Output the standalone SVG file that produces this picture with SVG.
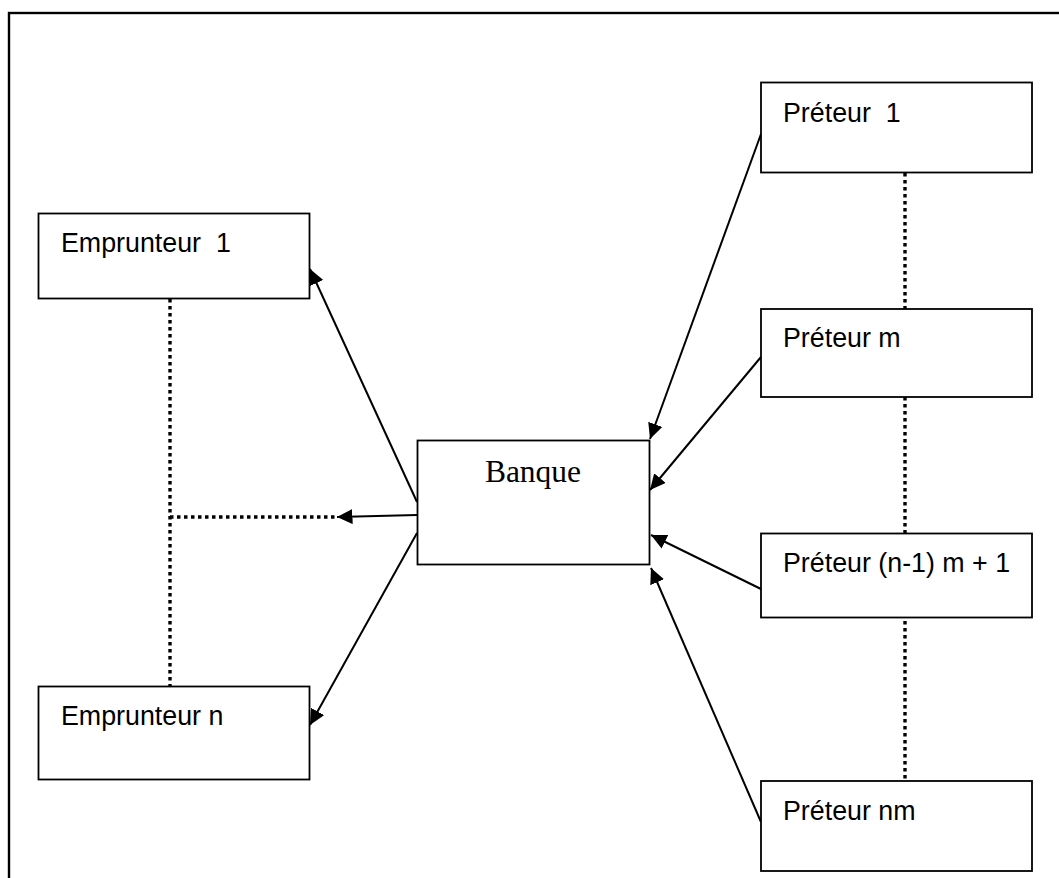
<svg xmlns="http://www.w3.org/2000/svg" width="1059" height="878" viewBox="0 0 1059 878">
<style>
.box{fill:#fff;stroke:#000;stroke-width:1.8}
.lbl{font-family:"Liberation Sans",Arial,sans-serif;font-size:26.8px;fill:#000;white-space:pre}
.bank{font-family:"Liberation Serif","Times New Roman",serif;font-size:31.5px;fill:#000}
.arr{stroke:#000;stroke-width:2;fill:none;marker-end:url(#ah)}
.dot{stroke:#000;stroke-width:3.4;fill:none;stroke-dasharray:3.5 3.5}
</style>
<defs>
<marker id="ah" markerUnits="userSpaceOnUse" markerWidth="16" markerHeight="15" refX="15.5" refY="7.5" orient="auto">
<path d="M0,0 L15.5,7.5 L0,15 z" fill="#000"/>
</marker>
</defs>
<rect x="9" y="13" width="1100" height="1000" fill="none" stroke="#000" stroke-width="2.4"/>
<g id="connectors">
<line class="dot" x1="170" y1="299" x2="170" y2="687"/>
<line class="dot" x1="170" y1="517" x2="336" y2="517"/>
<line class="dot" x1="905" y1="173" x2="905" y2="781"/>
<line class="arr" x1="417" y1="502" x2="310" y2="269"/>
<line class="arr" x1="417" y1="515" x2="337" y2="517"/>
<line class="arr" x1="417" y1="533" x2="310" y2="725"/>
<line class="arr" x1="761" y1="134" x2="650" y2="439"/>
<line class="arr" x1="761" y1="357" x2="650" y2="490"/>
<line class="arr" x1="761" y1="589" x2="651" y2="535"/>
<line class="arr" x1="761" y1="822" x2="651" y2="568"/>
</g>
<g id="emprunteur1">
<rect class="box" x="38.5" y="213.5" width="271" height="85"/>
<text class="lbl" x="61" y="252">Emprunteur  1</text>
</g>
<g id="emprunteurn">
<rect class="box" x="38.5" y="686.5" width="271" height="93"/>
<text class="lbl" x="61" y="725">Emprunteur n</text>
</g>
<g id="banque">
<rect class="box" x="417.5" y="440.5" width="232" height="124"/>
<text class="bank" x="533" y="482" text-anchor="middle">Banque</text>
</g>
<g id="preteur1">
<rect class="box" x="761" y="82.5" width="271" height="90"/>
<text class="lbl" x="783" y="122">Préteur  1</text>
</g>
<g id="preteurm">
<rect class="box" x="761" y="309" width="271" height="88"/>
<text class="lbl" x="783" y="347">Préteur m</text>
</g>
<g id="preteurn1m1">
<rect class="box" x="761" y="533.5" width="271" height="84"/>
<text class="lbl" x="783" y="572">Préteur (n-1) m + 1</text>
</g>
<g id="preteurnm">
<rect class="box" x="761" y="781" width="271" height="90"/>
<text class="lbl" x="783" y="820">Préteur nm</text>
</g>
</svg>
